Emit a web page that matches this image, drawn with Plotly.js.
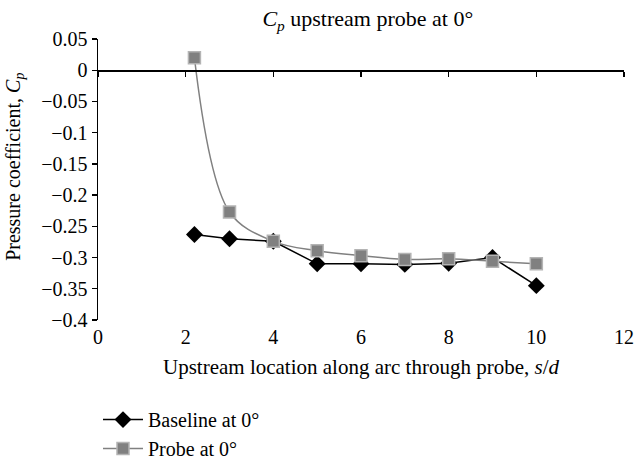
<!DOCTYPE html>
<html>
<head>
<meta charset="utf-8">
<script src="https://cdn.plot.ly/plotly-3.0.1.min.js"></script>
<style>
  html, body { margin: 0; padding: 0; background: #fff; }
  #chart { width: 634px; height: 461px; }
</style>
</head>
<body>
<div id="chart"></div>
<script>
// Upstream locations along the arc (s/d)
const sdPositions = [2.2, 3, 4, 5, 6, 7, 8, 9, 10];
// Pressure coefficient, baseline (no probe) at 0°
const baselineCp = [-0.263, -0.270, -0.274, -0.310, -0.310, -0.311, -0.309, -0.300, -0.345];
// Pressure coefficient with probe at 0°
const probeCp = [0.020, -0.227, -0.274, -0.289, -0.297, -0.303, -0.302, -0.306, -0.310];

const yTickVals = [0.05, 0, -0.05, -0.1, -0.15, -0.2, -0.25, -0.3, -0.35, -0.4];
const yTickText = ['0.05', '0', '\u22120.05', '\u22120.1', '\u22120.15', '\u22120.2', '\u22120.25', '\u22120.3', '\u22120.35', '\u22120.4'];
const xTickVals = [0, 2, 4, 6, 8, 10, 12];

const serif = '"Liberation Serif", "Times New Roman", serif';

const traces = [
  {
    x: sdPositions, y: baselineCp,
    name: 'Baseline at 0\u00b0',
    legendgroup: 'baseline',
    mode: 'lines+markers',
    line: { color: '#000000', width: 1.5 },
    marker: { symbol: 'diamond', size: 13, color: '#000000' }
  },
  {
    x: sdPositions, y: probeCp,
    name: 'Probe at 0\u00b0',
    legendgroup: 'probe',
    mode: 'lines+markers',
    line: { color: '#808080', width: 1.5, shape: 'spline', smoothing: 1 },
    marker: { symbol: 'square', size: 12, color: '#808080', line: { color: '#b4b4b4', width: 1.5 } }
  }
];

const layout = {
  width: 634, height: 461,
  margin: { l: 98, r: 10, t: 39, b: 141, autoexpand: false },
  paper_bgcolor: '#ffffff', plot_bgcolor: '#ffffff',
  font: { family: serif, size: 20, color: '#000000' },
  title: {
    text: '<i>C</i><sub><i>p</i></sub> upstream probe at 0\u00b0',
    font: { family: serif, size: 22, color: '#000000' },
    xref: 'paper', x: 0.513, xanchor: 'center',
    yref: 'container', y: 0.96, yanchor: 'middle'
  },
  xaxis: {
    range: [0, 12],
    tickvals: xTickVals,
    showline: false, showgrid: false, zeroline: false,
    ticks: '', ticklabelstandoff: 3,
    tickfont: { family: serif, size: 20 },
    automargin: false,
    title: {
      text: 'Upstream location along arc through probe, <i>s</i>/<i>d</i>',
      font: { family: serif, size: 21 }, standoff: 12
    }
  },
  // Horizontal axis line drawn through Cp = 0, with ticks hanging below it
  xaxis2: {
    overlaying: 'x', matches: 'x', range: [0, 12],
    anchor: 'free', position: 0.4 / 0.45, side: 'bottom',
    tickvals: xTickVals, showticklabels: false,
    ticks: 'outside', ticklen: 5, tickwidth: 1.3, tickcolor: '#000000',
    showline: true, linecolor: '#000000', linewidth: 1.5,
    showgrid: false, zeroline: false, automargin: false
  },
  yaxis: {
    range: [-0.4, 0.05],
    tickvals: yTickVals, ticktext: yTickText,
    showline: true, linecolor: '#000000', linewidth: 1.5,
    ticks: 'outside', ticklen: 5, tickwidth: 1.3, tickcolor: '#000000',
    showgrid: false, zeroline: false, automargin: false,
    tickfont: { family: serif, size: 20 }
  },
  // Vertical axis title, placed as a rotated annotation left of the tick labels
  annotations: [{
    text: 'Pressure coefficient, <i>C</i><sub><i>p</i></sub>',
    textangle: -90,
    xref: 'paper', yref: 'paper',
    x: 0, y: 0.545, xanchor: 'center', yanchor: 'middle',
    xshift: -83,
    showarrow: false,
    font: { family: serif, size: 20, color: '#000000' }
  }],
  showlegend: true,
  legend: {
    x: 0.0, xanchor: 'left',
    y: -0.285, yanchor: 'top',
    orientation: 'v',
    traceorder: 'grouped',
    tracegroupgap: 0,
    itemwidth: 40,
    font: { family: serif, size: 20, color: '#000000' },
    bgcolor: 'rgba(0,0,0,0)'
  }
};

// An empty trace on the overlay axis so its line and ticks are rendered
traces.push({ x: [0], y: [0], xaxis: 'x2', yaxis: 'y', mode: 'markers', marker: { opacity: 0 }, showlegend: false, hoverinfo: 'skip' });

Plotly.newPlot('chart', traces, layout, { displayModeBar: false, staticPlot: true });
</script>
</body>
</html>
